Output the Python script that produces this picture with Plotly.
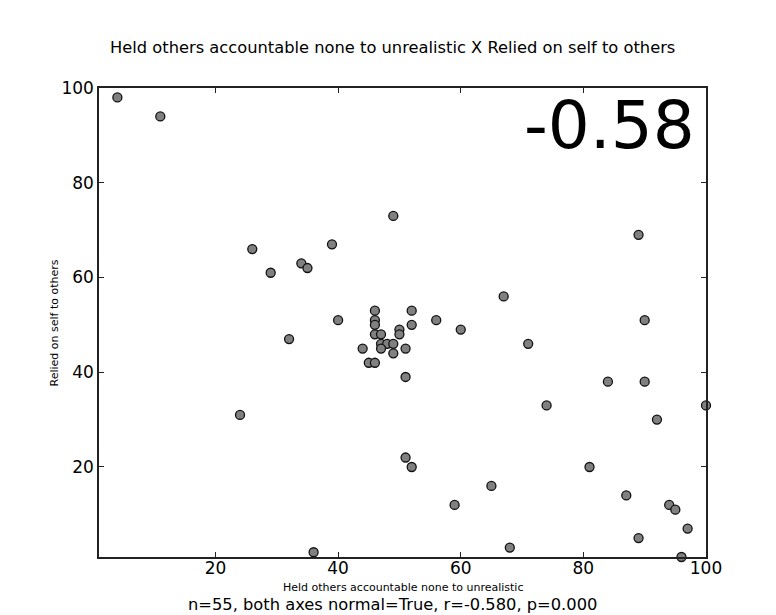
import plotly.graph_objects as go

x_vals = [4, 11, 26, 29, 34, 35, 39, 49, 40, 32, 24, 36,
          46, 52, 46, 46, 56, 50, 50, 52, 60, 46, 47, 71, 47, 48, 49,
          44, 47, 51, 49, 45, 46, 51, 67, 74, 51, 52, 65, 59, 68,
          89, 90, 84, 90, 100, 92, 81, 87, 94, 95, 97, 89, 96]
y_vals = [98, 94, 66, 61, 63, 62, 67, 73, 51, 47, 31, 2,
          53, 53, 51, 50, 51, 49, 48, 50, 49, 48, 48, 46, 46, 46, 46,
          45, 45, 45, 44, 42, 42, 39, 56, 33, 22, 20, 16, 12, 3,
          69, 51, 38, 38, 33, 30, 20, 14, 12, 11, 7, 5, 1]
tick_vals = [20, 40, 60, 80, 100]

title = "Held others accountable none to unrealistic X Relied on self to others"
x_label = "Held others accountable none to unrealistic"
y_label = "Relied on self to others"
footer = "n=55, both axes normal=True, r=-0.580, p=0.000"
big_r = "-0.58"

FONT = "DejaVu Sans"

fig = go.Figure(go.Scatter(
    x=x_vals, y=y_vals, mode="markers",
    marker=dict(size=9, color="#808080", line=dict(color="#111111", width=1.3)),
    cliponaxis=False, hoverinfo="skip"))

axis_common = dict(
    showgrid=False, zeroline=False, showline=True, linecolor="#222222", linewidth=1.5,
    mirror="ticks", ticks="inside", ticklen=5, tickwidth=1, tickcolor="#222222",
    tickfont=dict(family=FONT, size=17, color="#000000"),
    tickvals=tick_vals, range=[1, 100])

fig.update_xaxes(ticklabelstandoff=-5, **axis_common)
fig.update_yaxes(**axis_common)

annotations = [
    dict(text=title, x=0.483, y=1.0853, xref="paper", yref="paper",
         showarrow=False, font=dict(family=FONT, size=16.3, color="#000000"),
         xanchor="center", yanchor="middle"),
    dict(text=x_label, x=0.5, y=-0.064, xref="paper", yref="paper",
         showarrow=False, font=dict(family=FONT, size=11, color="#000000"),
         xanchor="center", yanchor="middle"),
    dict(text=y_label, x=-0.0725, y=0.5, xref="paper", yref="paper", textangle=-90,
         showarrow=False, font=dict(family=FONT, size=11, color="#000000"),
         xanchor="center", yanchor="middle"),
    dict(text=footer, x=0.483, y=-0.1023, xref="paper", yref="paper",
         showarrow=False, font=dict(family=FONT, size=16.3, color="#000000"),
         xanchor="center", yanchor="middle"),
    dict(text=big_r, x=0.985, y=0.919, xref="paper", yref="paper",
         showarrow=False, font=dict(family=FONT, size=66, color="#000000"),
         xanchor="right", yanchor="middle"),
]

fig.update_layout(
    width=776, height=615,
    margin=dict(l=91, r=78, t=80, b=66, pad=0),
    paper_bgcolor="white", plot_bgcolor="white",
    showlegend=False, annotations=annotations)

fig.write_html("out.html")
